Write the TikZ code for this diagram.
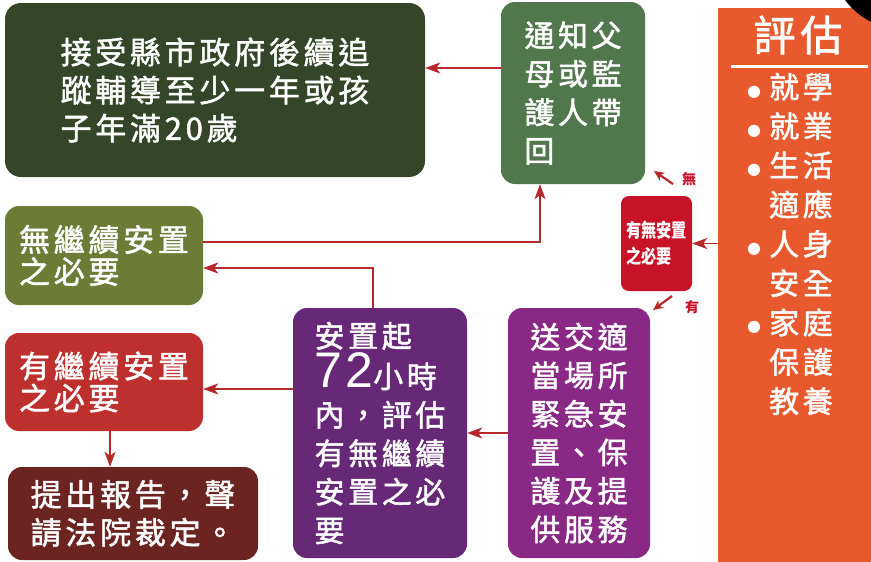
\documentclass[tikz,border=0pt]{standalone}
\usepackage{fontspec}
\setmainfont{Noto Sans CJK TC}
\newfontfamily\cjk{Noto Sans CJK TC}[LetterSpace=12,FakeBold=1.6]
\newfontfamily\cjkn{Noto Sans CJK TC}[FakeStretch=0.8]
\newfontfamily\numf{Liberation Sans}[LetterSpace=6]
\newfontfamily\dv{DejaVu Sans}
\usetikzlibrary{arrows.meta}
\definecolor{cA}{RGB}{52,69,40}
\definecolor{cB}{RGB}{80,120,76}
\definecolor{cC}{RGB}{108,124,54}
\definecolor{cD}{RGB}{190,48,46}
\definecolor{cE}{RGB}{108,36,32}
\definecolor{cF}{RGB}{104,40,120}
\definecolor{cG}{RGB}{138,40,134}
\definecolor{cH}{RGB}{200,18,40}
\definecolor{cO}{RGB}{232,90,46}
\definecolor{arrc}{RGB}{182,40,42}
\newcommand{\evbul}{\makebox[22pt][l]{\raisebox{2pt}{\dv\fontsize{16}{16}\selectfont ●}}}
\newcommand{\evsp}{\makebox[22pt][l]{}}
\begin{document}
\begin{tikzpicture}[x=1pt,y=-1pt,
  box/.style={rounded corners=14pt, inner sep=0pt, text=white, align=left},
  ftA/.style={font=\cjk\fontsize{31}{38}\selectfont},
  ftB/.style={font=\cjk\fontsize{30}{38.5}\selectfont},
  ftC/.style={font=\cjk\fontsize{31}{32}\selectfont},
  arr/.style={draw=arrc, line width=1.7pt, -{Stealth[length=15pt,width=11pt,inset=4pt]}},
  sarr/.style={draw=arrc, line width=2.2pt, -{Stealth[length=10pt,width=9pt,inset=3pt]}},
  lbl/.style={text=cH, font=\bfseries\fontsize{14}{14}\selectfont, inner sep=0pt}
]
\useasboundingbox (0,0) rectangle (871,562);
\fill[white] (0,0) rectangle (871,562);

% evaluation panel
\node[fill=cO, minimum width=153pt, minimum height=560pt, inner sep=0pt, anchor=north west] (eval) at (718,8) {};
\fill[black] (905,-45) circle (75pt);
\node[text=white, font=\cjk\fontsize{42}{42}\selectfont, inner sep=0pt] (evtitle) at (798,35) {評估};
\draw[white, line width=3pt] (731,66) -- (868,66);
\node[text=white, align=left, inner sep=0pt, anchor=west,
  font=\cjk\fontsize{30}{39.3}\selectfont] (evlist) at (747,244)
  {\evbul 就學\\\evbul 就業\\\evbul 生活\\\evsp 適應\\\evbul 人身\\\evsp 安全\\\evbul 家庭\\\evsp 保護\\\evsp 教養};

% boxes
\node[box, ftA, fill=cA, minimum width=420pt, minimum height=174pt, rounded corners=16pt] (A) at (215,90)
  {接受縣市政府後續追\\蹤輔導至少一年或孩\\子年滿20歲};
\node[box, ftB, fill=cB, minimum width=144pt, minimum height=182pt] (B) at (573,93)
  {通知父\\母或監\\護人帶\\回};
\node[box, ftC, fill=cC, minimum width=198pt, minimum height=99pt] (C) at (104,255.5)
  {無繼續安置\\之必要};
\node[box, ftC, fill=cD, minimum width=198pt, minimum height=98pt] (D) at (104,382)
  {有繼續安置\\之必要};
\node[box, ftA, fill=cE, minimum width=250pt, minimum height=93pt] (E) at (133,513.5)
  {提出報告，聲\\請法院裁定。};
\node[box, ftB, fill=cF, minimum width=174pt, minimum height=250pt] (F) at (380,433)
  {安置起\\[2pt]{\numf\fontsize{50}{50}\selectfont 72}小時\\內，評估\\有無繼續\\安置之必\\要};
\node[box, ftB, fill=cG, minimum width=142pt, minimum height=250pt] (G) at (579,433)
  {送交適\\當場所\\緊急安\\置、保\\護及提\\供服務};
\node[box, fill=cH, rounded corners=8pt, minimum width=71pt, minimum height=95pt,
  font=\cjkn\bfseries\fontsize{19}{26}\selectfont] (H) at (656.5,243.5)
  {有無安置\\之必要};

% connectors
\draw[arr] ([yshift=25pt]B.west) -- ([yshift=25pt]B.west -| A.east);
\draw[arr] ([yshift=13.5pt]C.east) -| ([xshift=-33pt]B.south);
\draw[arr] ([xshift=-7pt]F.north) |- ([yshift=-12.5pt]C.east);
\draw[arr] ([yshift=-7pt]D.east -| F.west) -- ([yshift=-7pt]D.east);
\draw[arr] ([xshift=6pt]D.south) -- ([xshift=6pt]D.south |- E.north);
\draw[arr] (G.west) -- (G.west -| F.east);
\draw[arr] (eval.west |- H.east) -- (H.east);

% small yes/no arrows
\coordinate (n1) at (673,184);
\coordinate (n2) at (654,171);
\coordinate (y1) at (672,296);
\coordinate (y2) at (653,310);
\draw[sarr] (n1) -- (n2);
\draw[sarr] (y1) -- (y2);
\node[lbl] (nlbl) at (689,179) {無};
\node[lbl] (ylbl) at (692,307) {有};
\end{tikzpicture}
\end{document}
